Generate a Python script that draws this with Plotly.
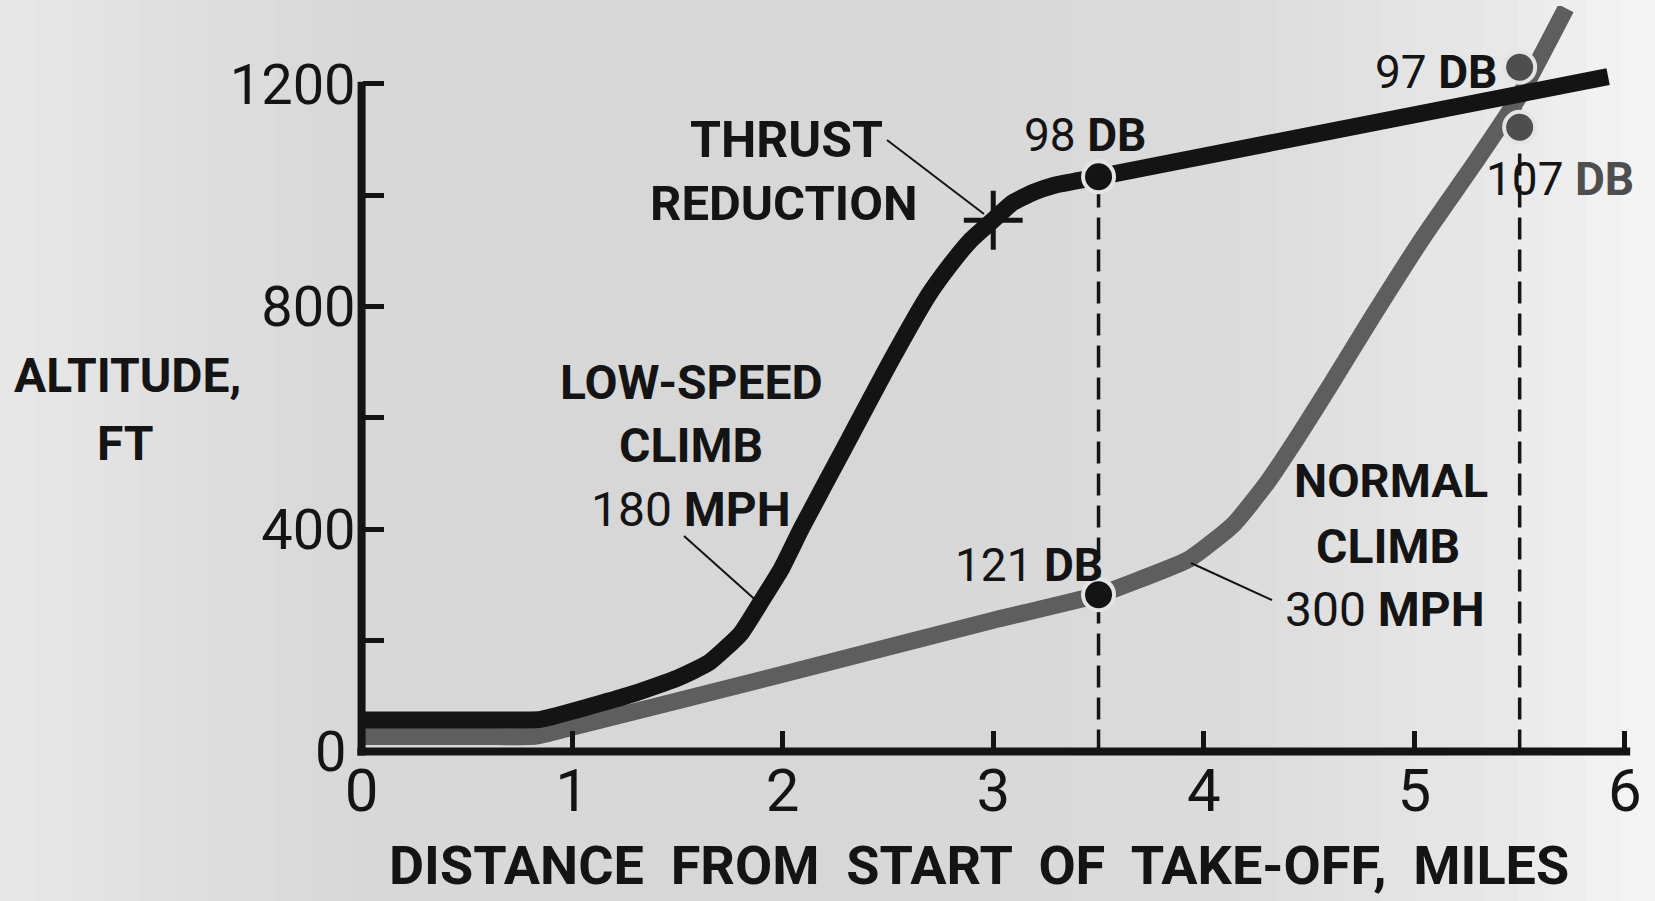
import plotly.graph_objects as go

# ---------------- data ----------------
# Low-speed climb, 180 mph (black)
low_x = [0.01, 0.30, 0.60, 0.85, 1.10, 1.30, 1.50, 1.65, 1.80, 1.89, 1.99, 2.09, 2.29, 2.49,
         2.69, 2.79, 2.89, 2.99, 3.09, 3.19, 3.29, 3.50, 5.92]
low_y = [57, 57, 57, 58, 83, 105, 132, 160, 212, 265, 326, 402, 544, 686,
         819, 872, 918, 952, 986, 1005, 1018, 1033, 1213]

# Normal climb, 300 mph (gray)
normal_x = [0.01, 0.30, 0.60, 0.83, 1.0, 2.0, 3.0, 3.50, 3.70, 3.93, 4.14, 4.30, 4.45, 4.60,
            4.80, 5.05, 5.30, 5.50, 5.72]
normal_y = [27, 27, 27, 28, 44, 139, 236, 282, 310, 346, 408, 483, 568, 658,
            781, 929, 1065, 1179, 1336]

# Thrust reduction point
thrust_x = [3.0]
thrust_y = [955]

# Noise measurement points
noise_x = [3.5, 3.5, 5.5, 5.5]
noise_y = [1033, 282, 1230, 1122]
noise_db = [98, 121, 97, 107]

# Axis ticks
x_ticks = [0, 1, 2, 3, 4, 5, 6]
x_tick_labels = ["0", "1", "2", "3", "4", "5", "6"]
y_ticks = [0, 200, 400, 600, 800, 1000, 1200]
y_tick_labels = ["", "", "400", "", "800", "", "1200"]
y_zero_label = "0"

# ---------------- styling ----------------
W, H = 1655, 901
ML, MR, MT, MB = 330, 9, 6, 116
XR = [-0.15, 6.1]
YR = [-60, 1340]
BLACK = "#141414"
GRAY = "#5e5e5e"
DOTGRAY = "#4e4e4e"
BG = "#dadada"
FONT = "Roboto, Liberation Sans, sans-serif"

PW, PH = W - ML - MR, H - MT - MB


def px(xpix):
    """full-image pixel x -> paper x"""
    return (xpix - ML) / PW


def py(ypix):
    """full-image pixel y -> paper y"""
    return (H - MB - ypix) / PH


fig = go.Figure()

# background gradient (lighter edges, darker middle)
stops = [(0.0, 0xe8), (0.2, 0xd9), (0.5, 0xd7), (0.75, 0xdc), (0.9, 0xe8), (1.0, 0xf6)]
n = 48
shapes = []
for i in range(n):
    f = (i + 0.5) / n
    for (a, ca), (b, cb) in zip(stops[:-1], stops[1:]):
        if a <= f <= b:
            c = int(ca + (cb - ca) * (f - a) / (b - a))
            break
    shapes.append(dict(type="rect", xref="paper", yref="paper",
                       x0=px(W * i / n), x1=px(W * (i + 1) / n + 1),
                       y0=py(H + 2), y1=py(-2), line=dict(width=0),
                       fillcolor="#%02x%02x%02x" % (c, c, c), layer="below"))

# axis lines
shapes.append(dict(type="line", xref="x", yref="y", x0=-0.02, x1=6.025, y0=0, y1=0,
                   line=dict(color=BLACK, width=8)))
shapes.append(dict(type="line", xref="x", yref="y", x0=0, x1=0, y0=-7, y1=y_ticks[-1] + 4,
                   line=dict(color=BLACK, width=8)))


# leader lines
def leader(p0, p1):
    return dict(type="line", xref="paper", yref="paper",
                x0=px(p0[0]), y0=py(p0[1]), x1=px(p1[0]), y1=py(p1[1]),
                line=dict(color=BLACK, width=2))


shapes.append(leader((887, 140), (984, 214)))
shapes.append(leader((684, 536), (760, 604)))
shapes.append(leader((1272, 600), (1191, 563)))

# vertical dashed lines from each noise point down to the axis
for xv in sorted(set(noise_x)):
    ytop = max(y for x, y in zip(noise_x, noise_y) if x == xv)
    fig.add_trace(go.Scatter(x=[xv, xv], y=[0, ytop], mode="lines",
                             line=dict(color=BLACK, width=3.5, dash="22px,10px"),
                             hoverinfo="skip", showlegend=False))

# climb curves
fig.add_trace(go.Scatter(x=normal_x, y=normal_y, mode="lines",
                         line=dict(color=GRAY, width=17, shape="spline", smoothing=0.5),
                         name="Normal climb 300 mph", showlegend=False))
fig.add_trace(go.Scatter(x=low_x, y=low_y, mode="lines",
                         line=dict(color=BLACK, width=17, shape="spline", smoothing=0.45),
                         name="Low-speed climb 180 mph", showlegend=False))

# thrust reduction cross
fig.add_trace(go.Scatter(x=thrust_x, y=thrust_y, mode="markers",
                         marker=dict(symbol="cross-thin", size=42,
                                     line=dict(color=BLACK, width=5)),
                         showlegend=False, hoverinfo="skip"))

# noise dots
dot_colors = [BLACK if x < 5 else DOTGRAY for x in noise_x]
fig.add_trace(go.Scatter(x=noise_x, y=noise_y, mode="markers",
                         marker=dict(size=31, color=dot_colors,
                                     line=dict(color="#e4e4e4", width=4)),
                         text=[f"{d} DB" for d in noise_db], hoverinfo="text",
                         showlegend=False))

# ---------------- text ----------------
ann = []


def label(text, xpix, ypix, size=48, weight="bold", color=BLACK):
    ann.append(dict(text=text, x=px(xpix), y=py(ypix), xref="paper", yref="paper",
                    showarrow=False, xanchor="center", yanchor="middle",
                    font=dict(family=FONT, size=size, color=color, weight=weight)))


def dblabel(i, xpix, ypix, db_color=BLACK):
    label(f"{noise_db[i]} <b><span style='color:{db_color}'>DB</span></b>",
          xpix, ypix, size=46, weight="normal")


label("THRUST", 786, 140, size=50)
label("REDUCTION", 784, 204, size=49)
label("LOW-SPEED", 691, 382)
label("CLIMB", 691, 445)
label("180 <b>MPH</b>", 691, 509, weight="normal")
label("NORMAL", 1391, 480, size=47)
label("CLIMB", 1388, 546)
label("300 <b>MPH</b>", 1385, 609, weight="normal")
label("ALTITUDE,", 127, 375)
label("FT", 125, 443)
dblabel(0, 1085, 135)
dblabel(1, 1029, 565)
dblabel(2, 1436, 72)
dblabel(3, 1560, 179, db_color=DOTGRAY)
label("DISTANCE  FROM  START  OF  TAKE-OFF,  MILES", 979, 866, size=54)
label(y_zero_label, 330, 752, size=56, weight="normal")

fig.update_layout(
    width=W, height=H, margin=dict(l=ML, r=MR, t=MT, b=MB),
    paper_bgcolor=BG, plot_bgcolor="rgba(0,0,0,0)",
    shapes=shapes, annotations=ann, showlegend=False,
    xaxis=dict(range=XR, anchor="free", position=(0 - YR[0]) / (YR[1] - YR[0]),
               showline=False, showgrid=False, zeroline=False,
               tickmode="array", tickvals=x_ticks, ticktext=x_tick_labels,
               ticks="inside", ticklen=21, tickwidth=5, tickcolor=BLACK,
               tickfont=dict(family=FONT, size=60, color=BLACK),
               ticklabelstandoff=-2, fixedrange=True),
    yaxis=dict(range=YR, anchor="free", position=(0 - XR[0]) / (XR[1] - XR[0]),
               showline=False, showgrid=False, zeroline=False,
               tickmode="array", tickvals=y_ticks, ticktext=y_tick_labels,
               ticks="inside", ticklen=21, tickwidth=5, tickcolor=BLACK,
               tickfont=dict(family=FONT, size=56, color=BLACK),
               ticklabelstandoff=6, fixedrange=True),
)

fig.write_html("out.html", config={"displayModeBar": False},
               post_script="document.body.style.margin='0px';")
